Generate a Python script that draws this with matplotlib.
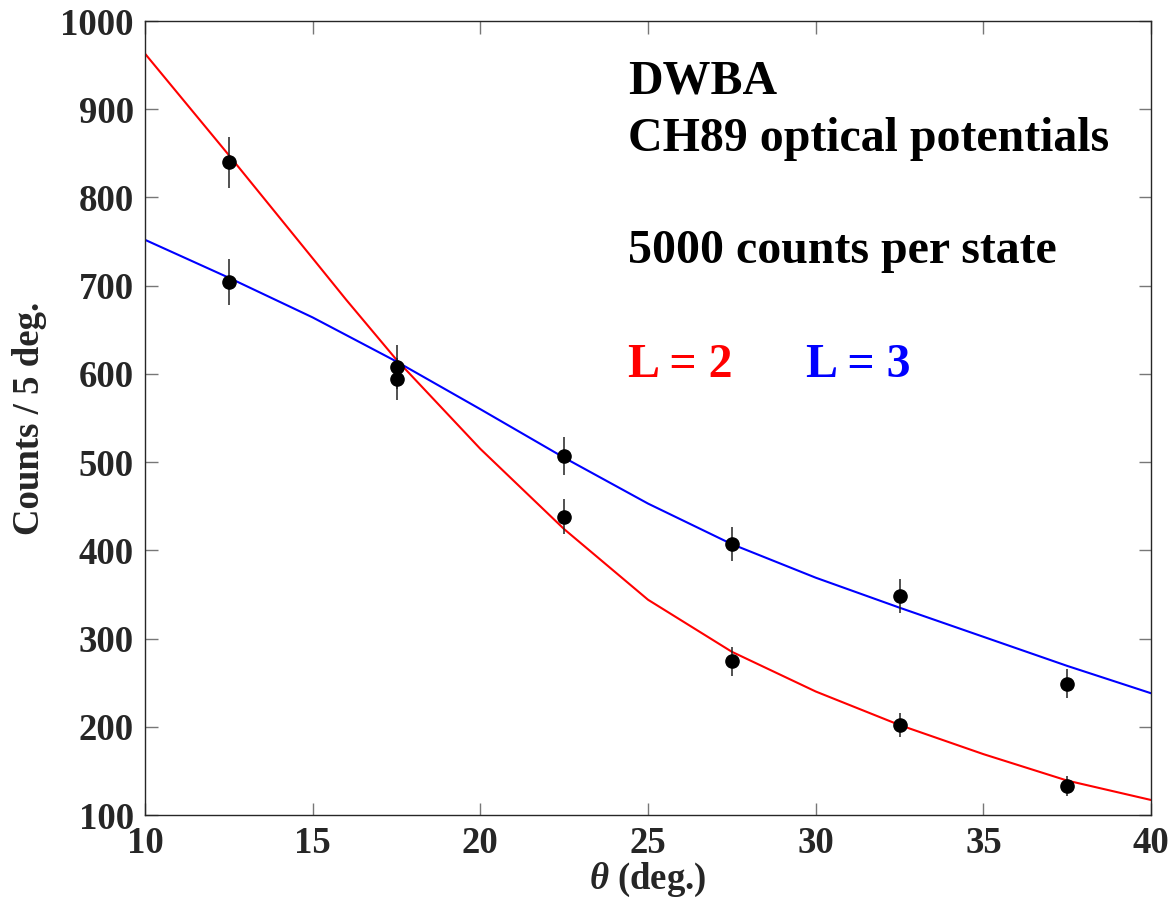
import matplotlib
matplotlib.use('Agg')
import matplotlib.pyplot as plt

plt.rcParams['font.family'] = ['Liberation Serif', 'DejaVu Serif']
plt.rcParams['font.weight'] = 'bold'
plt.rcParams['mathtext.fontset'] = 'custom'
plt.rcParams['mathtext.rm'] = 'Liberation Serif:bold'
plt.rcParams['mathtext.it'] = 'Liberation Serif:bold:italic'
plt.rcParams['mathtext.bf'] = 'Liberation Serif:bold'

# DWBA curves
theta_L2 = [10, 12.5, 15, 16, 17.5, 20, 22.5, 25, 27.5, 30, 32.5, 35, 37.5, 40]
counts_L2 = [963, 848, 731, 684, 616, 515, 424, 344, 285, 240, 202, 169, 139, 117]
theta_L3 = [10, 12.5, 15, 17.5, 20, 22.5, 25, 27.5, 30, 32.5, 35, 37.5, 40]
counts_L3 = [752, 709, 664, 614, 560, 505, 453, 407, 369, 335, 302, 269, 238]

# simulated data points
theta_pts = [12.5, 12.5, 17.5, 17.5, 22.5, 22.5, 27.5, 27.5, 32.5, 32.5, 37.5, 37.5]
counts_pts = [840, 704, 608, 594, 507, 438, 407, 274, 348, 202, 249, 133]
err_pts = [29, 26, 25, 24, 22, 20, 19, 16, 19, 14, 16, 11]

fig = plt.figure(figsize=(11.76, 9.18), dpi=100)
ax = fig.add_axes([0.1233, 0.1122, 0.8555, 0.8649])

ax.plot(theta_L2, counts_L2, color='#ff0000', lw=1.5, zorder=2)
ax.plot(theta_L3, counts_L3, color='#0000ff', lw=1.5, zorder=2)
ax.errorbar(theta_pts, counts_pts, yerr=err_pts, fmt='o', color='black',
            ecolor='#222222', elinewidth=1.1, capsize=0, markersize=9.5, zorder=3)

ax.set_xlim(10, 40)
ax.set_ylim(100, 1000)
ax.set_xticks(range(10, 41, 5))
ax.set_yticks(range(100, 1001, 100))
ax.tick_params(direction='in', length=9, width=1, colors='#777777', labelcolor='#262626',
               labelsize=26.5, top=True, right=True, pad=8)
for s in ax.spines.values():
    s.set_color('#262626')
    s.set_linewidth(1)

ax.set_xlabel(r'$\theta$ (deg.)', fontsize=26.5, fontweight='bold', color='#262626', labelpad=0)
ax.set_ylabel('Counts / 5 deg.', fontsize=26.5, fontweight='bold', color='#262626', labelpad=10)

tk = dict(fontsize=34.5, fontweight='bold', va='baseline', ha='left')
ax.text(24.4, 918, 'DWBA', color='black', **tk)
ax.text(24.4, 853, 'CH89 optical potentials', color='black', **tk)
ax.text(24.4, 726, '5000 counts per state', color='black', **tk)
ax.text(24.4, 596, 'L = 2', color='#ff0000', **tk)
ax.text(29.7, 596, 'L = 3', color='#0000ff', **tk)

fig.savefig('out.png', dpi=100)
